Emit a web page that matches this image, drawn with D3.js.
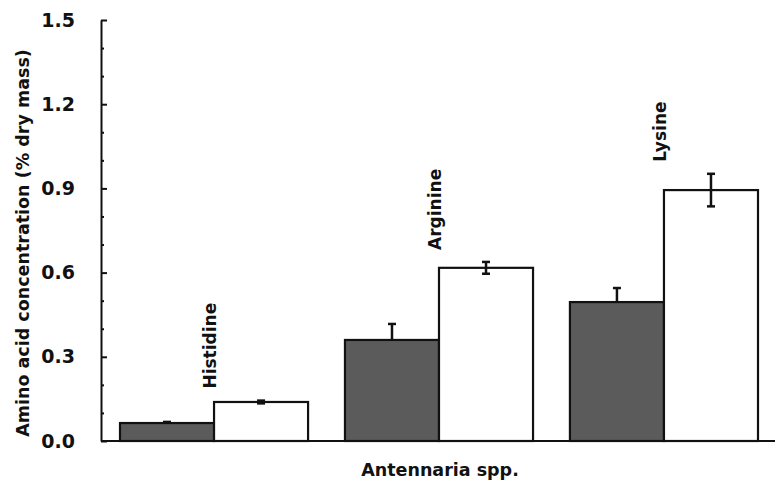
<!DOCTYPE html>
<html><head><meta charset="utf-8">
<script src="https://cdn.jsdelivr.net/npm/d3@7"></script>
<style>body{margin:0;background:#fff;}svg{display:block;}text{font-family:"DejaVu Sans",sans-serif;font-weight:bold;fill:#111;}</style>
</head><body><svg id="c" width="775" height="492"></svg>
<script>
const categories = ["Histidine", "Arginine", "Lysine"];
const series = ["dark", "white"];
const darkValues = [0.064, 0.36, 0.495];
const darkErrors = [0.004, 0.057, 0.05];
const whiteValues = [0.139, 0.617, 0.894];
const whiteErrors = [0.005, 0.021, 0.058];
const yTicks = [0.0, 0.3, 0.6, 0.9, 1.2, 1.5];
const yMinorTicks = [0.1, 0.2, 0.4, 0.5, 0.7, 0.8, 1.0, 1.1, 1.3, 1.4];

const svg = d3.select("#c");
const y = d3.scaleLinear().domain([0, 1.5]).range([441, 20]);
const x = d3.scaleBand().domain(categories).range([120, 758]).paddingInner(0.164).paddingOuter(0);
const xs = d3.scaleBand().domain(series).range([0, x.bandwidth()]).padding(0);

const data = categories.map((c, i) => ({c, vals: [
  {s: "dark", v: darkValues[i], e: darkErrors[i]},
  {s: "white", v: whiteValues[i], e: whiteErrors[i]}
]}));

// bars
const g = svg.append("g").selectAll("g").data(data).join("g")
  .attr("transform", d => `translate(${x(d.c)},0)`);
g.selectAll("rect").data(d => d.vals).join("rect")
  .attr("x", d => xs(d.s)).attr("width", xs.bandwidth())
  .attr("y", d => y(d.v)).attr("height", d => y(0) - y(d.v))
  .attr("fill", d => d.s === "dark" ? "#5b5b5b" : "#fff")
  .attr("stroke", "#111").attr("stroke-width", 2.2);

// error bars
g.selectAll("g.err").data(d => d.vals).join("g").attr("class", "err").each(function(d) {
  const cx = xs(d.s) + xs.bandwidth() / 2;
  const el = d3.select(this);
  const lo = d.s === "dark" ? d.v : d.v - d.e;
  const hi = d.v + d.e;
  el.append("line").attr("x1", cx).attr("x2", cx).attr("y1", y(lo)).attr("y2", y(hi))
    .attr("stroke", "#111").attr("stroke-width", 2.5);
  el.append("line").attr("x1", cx - 4).attr("x2", cx + 4).attr("y1", y(hi)).attr("y2", y(hi))
    .attr("stroke", "#111").attr("stroke-width", 2.5);
  if (d.s === "white") {
    el.append("line").attr("x1", cx - 4).attr("x2", cx + 4).attr("y1", y(lo)).attr("y2", y(lo))
      .attr("stroke", "#111").attr("stroke-width", 2.5);
  }
});

// category labels
g.append("text")
  .attr("transform", (d, i) => `translate(${xs.bandwidth() - 4},${y(whiteValues[i] + whiteErrors[i]) - 12}) rotate(-90)`)
  .attr("text-anchor", "start").attr("dy", "0.35em")
  .style("font-size", "17px").text(d => d.c);

// y axis
const yAxis = d3.axisLeft(y).tickValues(yTicks).tickFormat(d3.format(".1f"))
  .tickSizeInner(-6).tickSizeOuter(0).tickPadding(26);
const ya = svg.append("g").attr("transform", "translate(101,0)").call(yAxis);
ya.select(".domain").attr("stroke", "#111").attr("stroke-width", 2);
ya.selectAll(".tick line").attr("stroke", "#111").attr("stroke-width", 2);
ya.selectAll(".tick text").style("font-size", "19px").style("font-family", "DejaVu Sans").style("font-weight", "bold").attr("fill", "#111");
const yMinor = d3.axisLeft(y).tickValues(yMinorTicks).tickFormat("").tickSizeInner(-3).tickSizeOuter(0);
const ym = svg.append("g").attr("transform", "translate(101,0)").call(yMinor);
ym.select(".domain").remove();
ym.selectAll(".tick line").attr("stroke", "#111").attr("stroke-width", 2);

// x axis line
svg.append("line").attr("x1", 101).attr("x2", 775).attr("y1", y(0)).attr("y2", y(0))
  .attr("stroke", "#111").attr("stroke-width", 2);

// titles
svg.append("text").attr("x", 440).attr("y", 476).attr("text-anchor", "middle")
  .style("font-size", "17.5px").text("Antennaria spp.");
svg.append("text").attr("transform", `translate(29,${(48 + 438) / 2}) rotate(-90)`)
  .attr("text-anchor", "middle").style("font-size", "17.5px")
  .text("Amino acid concentration (% dry mass)");
</script></body></html>
